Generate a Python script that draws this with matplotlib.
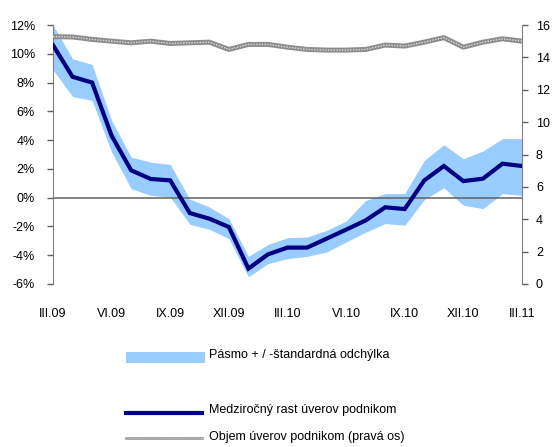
import matplotlib
matplotlib.use("Agg")
import matplotlib.pyplot as plt
from matplotlib.lines import Line2D
from matplotlib.patches import Rectangle
import numpy as np

plt.rcParams['font.family'] = ['Liberation Sans', 'DejaVu Sans']

months = ["III.09", "IV.09", "V.09", "VI.09", "VII.09", "VIII.09", "IX.09", "X.09", "XI.09",
          "XII.09", "I.10", "II.10", "III.10", "IV.10", "V.10", "VI.10", "VII.10", "VIII.10",
          "IX.10", "X.10", "XI.10", "XII.10", "I.11", "II.11", "III.11"]
tick_labels = ["III.09", "VI.09", "IX.09", "XII.09", "III.10", "VI.10", "IX.10", "XII.10", "III.11"]

growth = [10.6, 8.4, 8.0, 4.3, 1.9, 1.3, 1.2, -1.07, -1.46, -2.04, -4.93, -3.94, -3.47, -3.47,
          -2.85, -2.22, -1.58, -0.67, -0.79, 1.2, 2.2, 1.15, 1.32, 2.36, 2.2]
band_upper = [12.0, 9.65, 9.26, 5.37, 2.82, 2.47, 2.31, -0.1, -0.65, -1.46, -4.08, -3.26, -2.78,
              -2.74, -2.27, -1.62, -0.2, 0.28, 0.28, 2.59, 3.68, 2.71, 3.24, 4.1, 4.1]
band_lower = [8.89, 7.03, 6.76, 3.17, 0.62, 0.16, 0.04, -1.85, -2.2, -2.85, -5.51, -4.58, -4.24,
              -4.08, -3.78, -3.08, -2.4, -1.8, -1.92, -0.14, 0.69, -0.53, -0.76, 0.28, 0.16]
volume = [15.28, 15.26, 15.11, 15.0, 14.9, 15.0, 14.86, 14.9, 14.94, 14.49, 14.8, 14.8, 14.63,
          14.49, 14.45, 14.45, 14.49, 14.76, 14.7, 14.94, 15.22, 14.63, 14.94, 15.15, 15.0]

legend_labels = ["Pásmo + / -štandardná odchýlka",
                 "Medziročný rast úverov podnikom",
                 "Objem úverov podnikom (pravá os)"]

W, H = 553, 447
fig = plt.figure(figsize=(W / 100, H / 100), dpi=100)
ax = fig.add_axes([53 / W, 1 - 284 / H, (522 - 53) / W, (284 - 25) / H])
ax2 = ax.twinx()

x = np.arange(len(months))
band_col = '#99CCFF'
navy = '#000080'

ax.fill_between(x, band_lower, band_upper, color=band_col, lw=0, zorder=1)
ax.axhline(0, color='#606060', lw=1.1, zorder=2)
ax.plot(x, growth, color=navy, lw=3.0, solid_joinstyle='miter', zorder=3)

ax2.plot(x, volume, color='#8c8c8c', lw=3.6, zorder=3)
ax2.plot(x, volume, color='#dddddd', lw=1.0, dashes=(1, 1), zorder=4)

ax.set_xlim(0, 24)
ax.set_ylim(-6, 12)
ax2.set_ylim(0, 16)
ax.set_yticks(np.arange(-6, 13, 2))
ax.set_yticklabels([f"{v}%" for v in range(-6, 13, 2)])
ax2.set_yticks(np.arange(0, 17, 2))

ax.set_xticks([months.index(t) for t in tick_labels])
ax.set_xticklabels(tick_labels)

for a in (ax, ax2):
    for s in ('top', 'bottom'):
        a.spines[s].set_visible(False)
    a.spines['left'].set_color('#808080')
    a.spines['right'].set_color('#808080')
ax.spines['right'].set_visible(False)
ax2.spines['left'].set_visible(False)

fs = 9
ax.tick_params(axis='y', direction='out', length=4, width=1, color='#606060', pad=9,
               labelsize=fs, labelcolor='black')
ax2.tick_params(axis='y', direction='out', length=4, width=1, color='#606060', pad=6,
                labelsize=fs, labelcolor='black')
ax.tick_params(axis='x', length=0, pad=17, labelsize=fs)

# legend (manual layout)
def fx(px):
    return px / W

def fy(py):
    return 1 - py / H

fig.add_artist(Rectangle((fx(126), fy(363)), fx(205) - fx(126), (363 - 352) / H,
                         transform=fig.transFigure, color=band_col, lw=0))
fig.add_artist(Line2D([fx(126), fx(202)], [fy(413), fy(413)], transform=fig.transFigure,
                      color=navy, lw=3.0))
fig.add_artist(Line2D([fx(126), fx(202)], [fy(438), fy(438)], transform=fig.transFigure,
                      color='#8c8c8c', lw=1.8))
fig.add_artist(Line2D([fx(126), fx(202)], [fy(438), fy(438)], transform=fig.transFigure,
                      color='#dddddd', lw=0.6, dashes=(1, 1)))
for lab, py in zip(legend_labels, [355, 410, 437]):
    fig.text(fx(209), fy(py), lab, fontsize=fs, va='center', ha='left')

fig.savefig("out.png", dpi=100)
